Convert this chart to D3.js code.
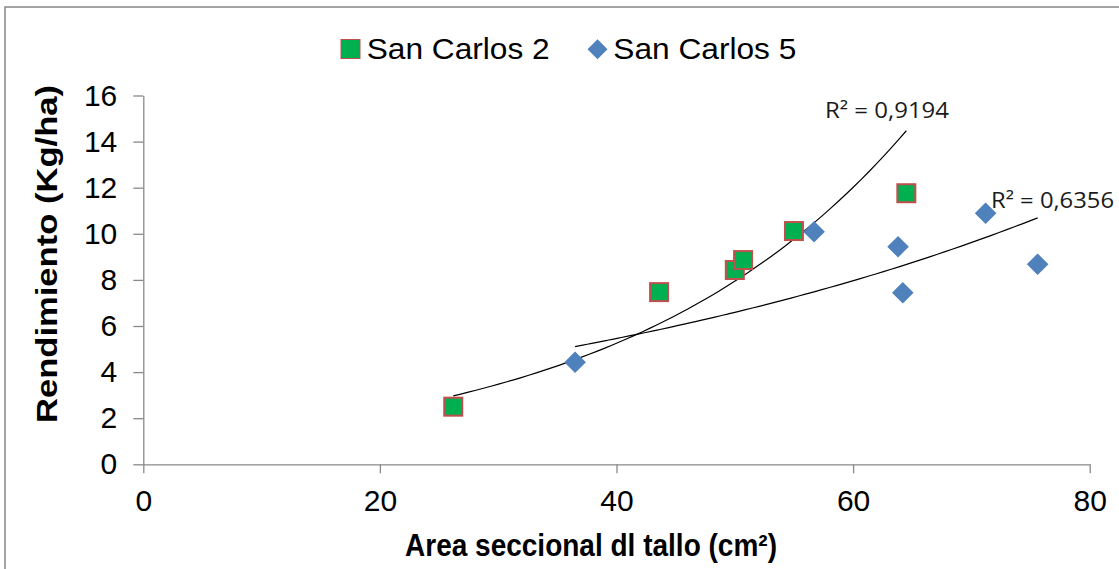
<!DOCTYPE html>
<html>
<head>
<meta charset="utf-8">
<script src="https://cdn.jsdelivr.net/npm/d3@7"></script>
<style>
  body { margin: 0; background: #fff; }
  svg { display: block; }
  .axis path, .axis line { stroke: #898989; stroke-width: 1.3; }
  .axis text { font-family: 'Liberation Sans', Arial, sans-serif; font-size: 30px; fill: #000; }
</style>
</head>
<body>
<script>
'use strict';

const seriesNames = ['San Carlos 2', 'San Carlos 5'];
const sc2Area = [26.2, 43.6, 50.0, 50.7, 55.0, 64.5];
const sc2Yield = [2.5, 7.47, 8.43, 8.86, 10.12, 11.76];
const sc5Area = [36.5, 56.7, 63.8, 64.2, 71.2, 75.6];
const sc5Yield = [4.43, 10.09, 9.44, 7.44, 10.89, 8.68];
const r2Labels = ['R\u00b2 = 0,9194', 'R\u00b2 = 0,6356'];
const xTicks = [0, 20, 40, 60, 80];
const yTicks = [0, 2, 4, 6, 8, 10, 12, 14, 16];

const width = 1119;
const height = 569;

const x = d3.scaleLinear().domain([0, 80]).range([143.3, 1089.7]);
const y = d3.scaleLinear().domain([0, 16]).range([464.3, 95.5]);

const svg = d3.select('body').append('svg')
  .attr('width', width)
  .attr('height', height);

// chart border (right and bottom edges fall outside the picture)
svg.append('rect')
  .attr('x', 5).attr('y', 7)
  .attr('width', 1130).attr('height', 580)
  .attr('fill', 'none')
  .attr('stroke', '#868686')
  .attr('stroke-width', 1.5);

svg.append('g')
  .attr('class', 'axis')
  .attr('transform', 'translate(0,' + y(0) + ')')
  .call(d3.axisBottom(x).tickValues(xTicks).tickSize(9).tickSizeOuter(0).tickPadding(16));

svg.append('g')
  .attr('class', 'axis')
  .attr('transform', 'translate(' + x(0) + ',0)')
  .call(d3.axisLeft(y).tickValues(yTicks).tickSize(10).tickSizeOuter(0).tickPadding(16));

// exponential trend line, least squares on ln(y) as the spreadsheet does
function expFit(xs, ys) {
  const ly = ys.map(Math.log);
  const mx = d3.mean(xs);
  const my = d3.mean(ly);
  let sxy = 0;
  let sxx = 0;
  xs.forEach(function(v, i) {
    sxy += (v - mx) * (ly[i] - my);
    sxx += (v - mx) * (v - mx);
  });
  const b = sxy / sxx;
  const a = Math.exp(my - b * mx);
  return function(v) { return a * Math.exp(b * v); };
}

function trendPoints(xs, ys) {
  const f = expFit(xs, ys);
  const lo = d3.min(xs);
  const hi = d3.max(xs);
  return d3.range(0, 61).map(function(i) {
    const v = lo + (hi - lo) * i / 60;
    return [v, f(v)];
  });
}

const line = d3.line()
  .x(function(d) { return x(d[0]); })
  .y(function(d) { return y(d[1]); })
  .curve(d3.curveMonotoneX);

[[sc2Area, sc2Yield], [sc5Area, sc5Yield]].forEach(function(s) {
  svg.append('path')
    .attr('d', line(trendPoints(s[0], s[1])))
    .attr('fill', 'none')
    .attr('stroke', '#000')
    .attr('stroke-width', 1.2);
});

const sc2 = d3.zip(sc2Area, sc2Yield);
const sc5 = d3.zip(sc5Area, sc5Yield);

svg.selectAll('.sq')
  .data(sc2)
  .enter().append('rect')
  .attr('class', 'sq')
  .attr('x', function(d) { return x(d[0]) - 9; })
  .attr('y', function(d) { return y(d[1]) - 9; })
  .attr('width', 18)
  .attr('height', 18)
  .attr('fill', '#00b050')
  .attr('stroke', '#c0504d')
  .attr('stroke-width', 2);

const diamond = 'M0,-10.8L10.8,0L0,10.8L-10.8,0Z';

svg.selectAll('.dm')
  .data(sc5)
  .enter().append('path')
  .attr('class', 'dm')
  .attr('d', diamond)
  .attr('transform', function(d) { return 'translate(' + x(d[0]) + ',' + y(d[1]) + ')'; })
  .attr('fill', '#4f81bd');

// R² labels
svg.append('text')
  .attr('x', 825).attr('y', 118)
  .attr('textLength', 124).attr('lengthAdjust', 'spacingAndGlyphs')
  .style('font-family', "'Open Sans', sans-serif")
  .style('font-size', '21px')
  .attr('fill', '#1a1a1a')
  .text(r2Labels[0]);

svg.append('text')
  .attr('x', 991).attr('y', 208)
  .attr('textLength', 123).attr('lengthAdjust', 'spacingAndGlyphs')
  .style('font-family', "'Open Sans', sans-serif")
  .style('font-size', '21px')
  .attr('fill', '#1a1a1a')
  .text(r2Labels[1]);

// legend
const legendFont = "'Liberation Sans', Arial, sans-serif";
svg.append('rect')
  .attr('x', 341).attr('y', 39.5)
  .attr('width', 19).attr('height', 19)
  .attr('fill', '#00b050')
  .attr('stroke', '#c0504d')
  .attr('stroke-width', 1);
svg.append('text')
  .attr('x', 366.7).attr('y', 59)
  .attr('textLength', 183).attr('lengthAdjust', 'spacingAndGlyphs')
  .style('font-family', legendFont).style('font-size', '29px')
  .text(seriesNames[0]);

svg.append('path')
  .attr('d', 'M0,-10L10,0L0,10L-10,0Z')
  .attr('transform', 'translate(597.5,49.3)')
  .attr('fill', '#4f81bd');
svg.append('text')
  .attr('x', 613.3).attr('y', 59)
  .attr('textLength', 183).attr('lengthAdjust', 'spacingAndGlyphs')
  .style('font-family', legendFont).style('font-size', '29px')
  .text(seriesNames[1]);

// axis titles
svg.append('text')
  .attr('x', 405).attr('y', 556)
  .attr('textLength', 372).attr('lengthAdjust', 'spacingAndGlyphs')
  .style('font-family', legendFont).style('font-size', '31px').style('font-weight', 'bold')
  .text('Area seccional dl tallo (cm\u00b2)');

svg.append('text')
  .attr('transform', 'translate(56.5,254) rotate(-90)')
  .attr('text-anchor', 'middle')
  .attr('textLength', 338).attr('lengthAdjust', 'spacingAndGlyphs')
  .style('font-family', legendFont).style('font-size', '30px').style('font-weight', 'bold')
  .text('Rendimiento (Kg/ha)');
</script>
</body>
</html>
